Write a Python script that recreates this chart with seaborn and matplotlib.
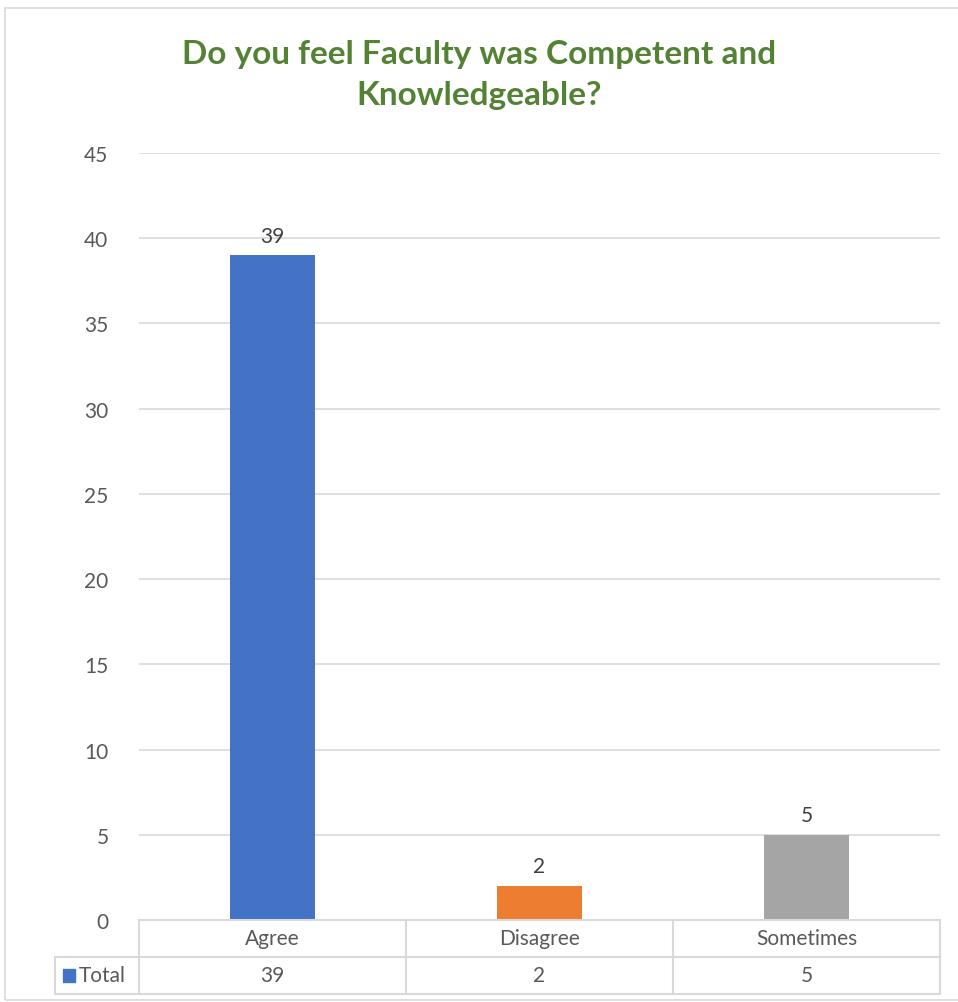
import matplotlib
matplotlib.use("Agg")
import matplotlib.pyplot as plt
import seaborn as sns
import pandas as pd
from matplotlib.patches import Rectangle

categories = ["Agree", "Disagree", "Sometimes"]
values = [39, 2, 5]
series_name = "Total"
colors = ["#4472C4", "#ED7D31", "#A5A5A5"]
yticks = [0, 5, 10, 15, 20, 25, 30, 35, 40, 45]
title = "Do you feel Faculty was Competent and\nKnowledgeable?"

sns.set_theme(style="white")
plt.rcParams['font.family'] = ['Lato', 'DejaVu Sans']

W, H = 958, 1003
fig = plt.figure(figsize=(W / 100, H / 100), dpi=100)
L, R, T, B = 139, 940, 154, 921
ax = fig.add_axes([L / W, (H - B) / H, (R - L) / W, (B - T) / H])

df = pd.DataFrame({"cat": categories, "val": values})
sns.barplot(data=df, x="cat", y="val", hue="cat", palette=colors,
            width=0.315, ax=ax, legend=False, saturation=1, edgecolor="none")

fs = 15
ax.set_ylim(0, 45)
ax.set_xlim(-0.5, 2.5)
ax.set_yticks(yticks)
ax.set_yticklabels([str(t) for t in yticks], color="#595959", fontsize=fs)
ax.tick_params(axis="y", length=0, pad=22)
ax.set_xticks([])
ax.set_xlabel("")
ax.set_ylabel("")
for s in ax.spines.values():
    s.set_visible(False)
ax.yaxis.grid(True, color="#D9D9D9", linewidth=1.2)
ax.set_axisbelow(True)

for i, v in enumerate(values):
    ax.annotate(str(v), (i, v), xytext=(0, 7), textcoords="offset points",
                ha="center", va="bottom", fontsize=fs, color="#404040")

fig.text(0.5, 1 - 75 / H, title, ha="center", va="center", fontsize=24,
         fontweight="bold", color="#548235", linespacing=1.5)

# data table
gc = "#D9D9D9"
def fx(x): return x / W
def fy(y): return 1 - y / H
def hline(y, x0, x1):
    fig.add_artist(plt.Line2D([fx(x0), fx(x1)], [fy(y), fy(y)], color=gc, lw=1.5))
def vline(x, y0, y1):
    fig.add_artist(plt.Line2D([fx(x), fx(x)], [fy(y0), fy(y1)], color=gc, lw=1.5))

row1, row2, row3 = 921, 958, 995
colx = [L + (R - L) * k / 3 for k in range(4)]
hline(row1, L, R)
hline(row2, 55, R)
hline(row3, 55, R)
for x in colx:
    vline(x, row1, row3)
vline(55, row2, row3)

for k, (c, v) in enumerate(zip(categories, values)):
    xc = (colx[k] + colx[k + 1]) / 2
    fig.text(fx(xc), fy((row1 + row2) / 2), c, ha="center", va="center",
             fontsize=fs, color="#595959")
    fig.text(fx(xc), fy((row2 + row3) / 2), str(v), ha="center", va="center",
             fontsize=fs, color="#595959")

fig.add_artist(Rectangle((fx(63), fy(983)), 12 / W, 13 / H, color=colors[0]))
fig.text(fx(79), fy((row2 + row3) / 2), series_name, ha="left", va="center",
         fontsize=fs, color="#595959")

# chart frame
fig.add_artist(Rectangle((fx(5), fy(1001)), (W - 5) / W + 0.01, (1001 - 9) / H,
                         fill=False, edgecolor="#D9D9D9", lw=1.2))

fig.savefig("out.png", dpi=100)
